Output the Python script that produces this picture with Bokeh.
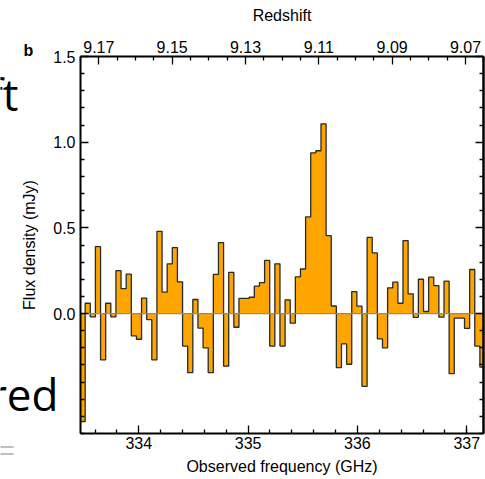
import numpy as np
from bokeh.plotting import figure
from bokeh.models import (Range1d, LinearAxis, Label, FixedTicker,
                          PrintfTickFormatter, ColumnDataSource)
from bokeh.embed import file_html
from bokeh.resources import INLINE

# ---- data ----
chan_start = 333.4628   # GHz, lower edge of first channel
chan_width = 0.04689    # GHz, channel width
flux = [-0.63, 0.06, -0.02, 0.39, -0.27, 0.06, -0.02, 0.25, 0.145, 0.23,
        -0.13, -0.15, 0.09, -0.035, -0.27, 0.48, 0.125, 0.29, 0.385, 0.185,
        -0.19, -0.345, 0.082, -0.085, -0.2, -0.345, 0.228, 0.414, -0.307, 0.24,
        -0.08, 0.088, 0.088, 0.095, 0.16, 0.18, 0.31, -0.19, 0.29, -0.19,
        0.08, -0.056, 0.214, 0.26, 0.564, 0.938, 0.95, 1.107, 0.455, 0.044,
        -0.315, -0.177, -0.296, 0.128, 0.043, -0.425, 0.444, 0.354, -0.148, -0.2,
        0.15, 0.183, 0.06, 0.426, 0.115, -0.022, 0.2, 0.012, 0.212, 0.163,
        -0.021, 0.189, -0.351, -0.027, -0.027, -0.087, 0.257, -0.19, -0.313]

freq_range = (333.467, 337.156)
flux_range = (-0.7, 1.5)
z_range = (9.175, 9.065)

freq_ticks = [334, 335, 336, 337]
freq_minor = [333.6, 333.8, 334.2, 334.4, 334.6, 334.8, 335.2, 335.4, 335.6,
              335.8, 336.2, 336.4, 336.6, 336.8, 337.0]
flux_ticks = [0.0, 0.5, 1.0, 1.5]
flux_minor = [-0.7, -0.6, -0.5, -0.4, -0.3, -0.2, -0.1, 0.1, 0.2, 0.3, 0.4,
              0.6, 0.7, 0.8, 0.9, 1.1, 1.2, 1.3, 1.4]
z_ticks = [9.17, 9.15, 9.13, 9.11, 9.09, 9.07]
z_minor = [9.175, 9.165, 9.16, 9.155, 9.145, 9.14, 9.135, 9.125, 9.12, 9.115,
           9.105, 9.10, 9.095, 9.085, 9.08, 9.075, 9.065]

x_label = "Observed frequency (GHz)"
y_label = "Flux density (mJy)"
z_label = "Redshift"

# ---- layout (pixels) ----
W, H = 485, 479
FL, FR, FT, FB = 80.0, 483.3, 56.0, 433.0   # plot box inside the canvas


def widen(r, lo_px, hi_px, a_px, b_px):
    # extend a range given for pixel span [a_px, b_px] to pixel span [lo_px, hi_px]
    s = (r[1] - r[0]) / (b_px - a_px)
    return (r[0] - (a_px - lo_px) * s, r[1] + (hi_px - b_px) * s)


xr = widen(freq_range, 0, W, FL, FR)
zr = widen(z_range, 0, W, FL, FR)
yr = widen(flux_range, 0, H, H - FB, H - FT)

# ---- derived ----
n = len(flux)
edges = chan_start + chan_width * np.arange(n + 1)
step_x = list(np.clip(edges, *freq_range))
step_y = list(flux) + [flux[-1]]
src = ColumnDataSource(dict(x=step_x, y=step_y, y0=[0.0] * (n + 1)))

FONT = "Liberation Sans"

p = figure(width=W, height=H, x_range=Range1d(*xr), y_range=Range1d(*yr),
           output_backend="svg", toolbar_location=None,
           x_axis_location=None, y_axis_location=None, min_border=0)
p.extra_x_ranges = {"z": Range1d(*zr)}
p.grid.visible = False
p.outline_line_color = None
p.background_fill_color = "white"
p.border_fill_color = "white"

p.varea_step(x="x", y1="y0", y2="y", step_mode="after", source=src,
             fill_color="#FFA500")
p.step(x="x", y="y", mode="after", source=src, line_color="#2a2a2a",
       line_width=1.3)
p.segment(x0=[freq_range[0]], x1=[freq_range[1]], y0=[0.0], y1=[0.0],
          line_color="#8a8a8a", line_width=1.2)


def style(ax):
    ax.axis_line_width = 2
    ax.axis_line_color = "black"
    ax.major_tick_in = 8
    ax.major_tick_out = 0
    ax.minor_tick_in = 4
    ax.minor_tick_out = 0
    ax.major_tick_line_width = 1.3
    ax.minor_tick_line_width = 1.3
    ax.major_label_text_font = FONT
    ax.major_label_text_font_size = "16px"
    ax.major_label_text_color = "black"
    ax.axis_label_text_font = FONT
    ax.axis_label_text_font_size = "16px"
    ax.axis_label_text_font_style = "normal"
    ax.axis_label_text_color = "black"


xa = LinearAxis(ticker=FixedTicker(ticks=freq_ticks, minor_ticks=freq_minor),
                formatter=PrintfTickFormatter(format="%.0f"),
                axis_label=x_label, fixed_location=flux_range[0],
                bounds=freq_range)
style(xa)
xa.major_label_standoff = 3
xa.axis_label_standoff = 6
p.add_layout(xa, "below")

ya = LinearAxis(ticker=FixedTicker(ticks=flux_ticks, minor_ticks=flux_minor),
                formatter=PrintfTickFormatter(format="%.1f"),
                axis_label=y_label, fixed_location=freq_range[0],
                bounds=flux_range)
style(ya)
ya.major_label_standoff = 5
ya.axis_label_standoff = 12
p.add_layout(ya, "left")

ta = LinearAxis(x_range_name="z", axis_label=z_label,
                ticker=FixedTicker(ticks=z_ticks, minor_ticks=z_minor),
                formatter=PrintfTickFormatter(format="%.2f"),
                fixed_location=flux_range[1], bounds=(z_range[1], z_range[0]))
style(ta)
ta.major_label_standoff = 4
ta.axis_label_standoff = 14
p.add_layout(ta, "above")

# right side: unlabelled ticks (short ones and long ones), no label texts
ra = LinearAxis(ticker=FixedTicker(ticks=[], minor_ticks=flux_minor),
                fixed_location=freq_range[1], bounds=flux_range)
style(ra)
p.add_layout(ra, "right")
ra2 = LinearAxis(ticker=FixedTicker(ticks=[], minor_ticks=flux_ticks),
                 fixed_location=freq_range[1], bounds=flux_range)
style(ra2)
ra2.minor_tick_in = 8
p.add_layout(ra2, "right")

# fragments of neighbouring panel text
p.add_layout(Label(x=18, y=93, x_units="canvas", y_units="canvas", text="ft",
                   text_align="right", text_baseline="alphabetic",
                   text_font="Open Sans", text_font_size="44px", text_color="black"))
p.add_layout(Label(x=58, y=393, x_units="canvas", y_units="canvas", text="red",
                   text_align="right", text_baseline="alphabetic",
                   text_font="Open Sans", text_font_size="44px", text_color="black"))
p.add_layout(Label(x=28, y=50, x_units="canvas", y_units="canvas", text="b",
                   text_align="center", text_baseline="alphabetic",
                   text_font=FONT, text_font_size="16px", text_font_style="bold",
                   text_color="black"))
p.add_layout(Label(x=-2, y=450, x_units="canvas", y_units="canvas", text="=",
                   text_align="left", text_baseline="alphabetic",
                   text_font=FONT, text_font_size="28px", text_color="#c0c0c0"))

open("out.html", "w").write(file_html(p, INLINE))
